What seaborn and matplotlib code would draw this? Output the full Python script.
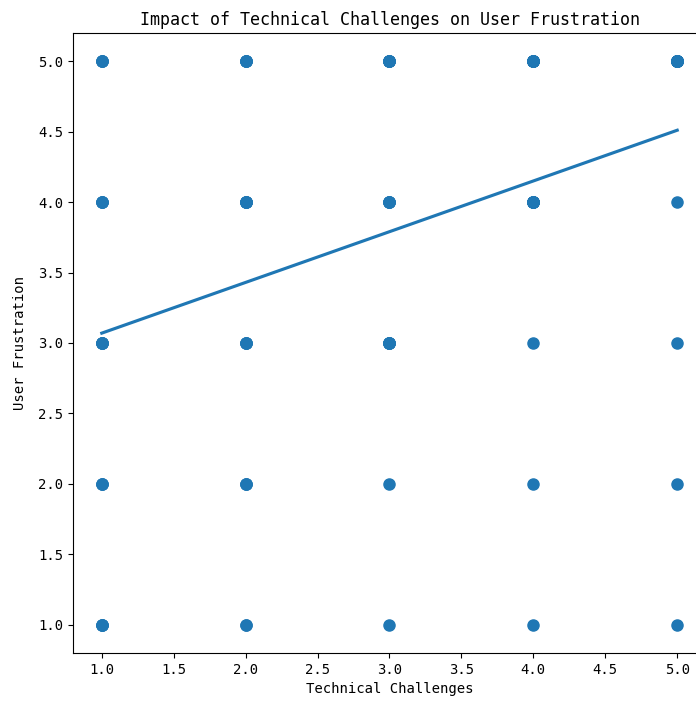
import numpy as np
import pandas as pd
import seaborn as sns
import matplotlib
matplotlib.use("Agg")
import matplotlib.pyplot as plt

# ---------- dados: quantas respostas em cada par (desafio, frustração) ----------
challenge_levels = [1, 2, 3, 4, 5]
frustration_levels = [1, 2, 3, 4, 5]
# linhas = nível de desafio técnico, colunas = frustração 1..5
counts_c1 = [4, 3, 5, 4, 4]
counts_c2 = [2, 3, 4, 6, 5]
counts_c3 = [1, 1, 6, 5, 7]
counts_c4 = [1, 1, 1, 8, 9]
counts_c5 = [1, 1, 1, 1, 16]

counts = [counts_c1, counts_c2, counts_c3, counts_c4, counts_c5]
tech, frus = [], []
for c, row in zip(challenge_levels, counts):
    tech += [c] * sum(row)
    frus += list(np.repeat(frustration_levels, row))

df = pd.DataFrame({"Technical Challenges": tech, "User Frustration": frus})

# ---------- gráfico ----------
plt.rcParams["font.family"] = ["DejaVu Sans Mono", "DejaVu Sans"]

fig = plt.figure(figsize=(6.96, 7.04), dpi=100)
ax = fig.add_axes([73 / 696, 1 - 653 / 704, 633 / 696, 620 / 704])

sns.regplot(data=df, x="Technical Challenges", y="User Frustration",
            ci=None, scatter_kws={"s": 64, "alpha": 1}, ax=ax)

ax.set_title("Impact of Technical Challenges on User Frustration", fontsize=12)
ax.set_xlabel("Technical Challenges", fontsize=10)
ax.set_ylabel("User Frustration", fontsize=10, labelpad=8)
ax.tick_params(labelsize=10)

fig.savefig("out.png", dpi=100)
